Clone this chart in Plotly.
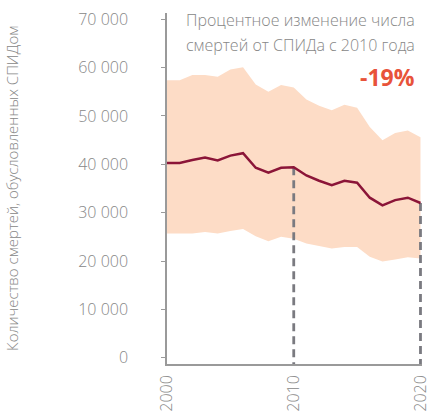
import plotly.graph_objects as go

years = list(range(2000, 2021))
deaths = [40300, 40300, 40900, 41400, 40800, 41800, 42300, 39300, 38300, 39300, 39400,
          37700, 36600, 35700, 36600, 36200, 33100, 31500, 32600, 33100, 32000]
upper = [57400, 57400, 58500, 58500, 58100, 59600, 60100, 56500, 55000, 56400, 55900,
         53400, 52100, 51200, 52300, 51700, 47700, 45000, 46500, 47000, 45600]
lower = [25700, 25700, 25700, 26000, 25700, 26200, 26600, 25100, 24100, 25000, 24600,
         23600, 23100, 22600, 22900, 22900, 20900, 19900, 20300, 20800, 20500]
y_ticks = [0, 10000, 20000, 30000, 40000, 50000, 60000, 70000]
y_tick_labels = ["0", "10 000", "20 000", "30 000", "40 000", "50 000", "60 000", "70 000"]
x_ticks = [2000, 2010, 2020]
marker_years = [2010, 2020]
y_range = [-1300, 71300]
x_range = [2000, 2020.12]

FONT = "Open Sans"
GREY = "#878787"

fig = go.Figure()
fig.add_trace(go.Scatter(x=years, y=lower, mode="lines", line=dict(width=0),
                         hoverinfo="skip", showlegend=False))
fig.add_trace(go.Scatter(x=years, y=upper, mode="lines", line=dict(width=0),
                         fill="tonexty", fillcolor="#fddcc6", hoverinfo="skip", showlegend=False))
for yr in marker_years:
    i = years.index(yr)
    fig.add_trace(go.Scatter(x=[yr, yr], y=[deaths[i], y_range[0]], mode="lines",
                             line=dict(color="#7a7a80", width=2.8, dash="8px,5px"),
                             showlegend=False))
fig.add_trace(go.Scatter(x=years, y=deaths, mode="lines",
                         line=dict(color="#8b1538", width=2.5), showlegend=False))

fig.update_layout(
    width=438, height=415,
    margin=dict(l=167, r=16, t=13, b=51),
    plot_bgcolor="white", paper_bgcolor="white",
    font=dict(family=FONT, color=GREY, size=15, weight=300),
    xaxis=dict(range=x_range, tickmode="array", tickvals=x_ticks,
               ticktext=[str(t) for t in x_ticks], tickangle=-90, showgrid=False,
               zeroline=False, showline=True, linecolor="#9a9a9a", linewidth=1.5,
               ticks="", ticklabelstandoff=3, automargin=False,
               tickfont=dict(size=16, color=GREY)),
    yaxis=dict(range=y_range, tickmode="array", tickvals=y_ticks, ticktext=y_tick_labels,
               showgrid=False, zeroline=False, showline=True, linecolor="#9a9a9a",
               linewidth=1.5, ticks="outside", ticklen=4, tickcolor="#9a9a9a",
               ticklabelstandoff=30, automargin=False,
               tickfont=dict(size=16, color=GREY)),
    annotations=[
        dict(text="Количество смертей, обусловленных СПИДом", xref="paper", yref="paper",
             x=-0.61, y=0.5, xanchor="center", yanchor="middle", textangle=-90,
             showarrow=False, font=dict(size=15, color=GREY)),
        dict(text="Процентное изменение числа",
             xref="paper", yref="paper", x=0.98, y=0.980, xanchor="right", yanchor="middle",
             showarrow=False, font=dict(size=16, color=GREY)),
        dict(text="смертей от СПИДа с 2010 года",
             xref="paper", yref="paper", x=0.98, y=0.909, xanchor="right", yanchor="middle",
             showarrow=False, font=dict(size=16, color=GREY)),
        dict(text="<b>-19%</b>", xref="paper", yref="paper", x=0.98, y=0.818,
             xanchor="right", yanchor="middle", showarrow=False,
             font=dict(size=23, color="#e8533a", weight=700)),
    ],
)

fig.write_html("out.html", config={"displayModeBar": False},
               post_script="document.body.style.margin='0';document.body.style.overflow='hidden';")
